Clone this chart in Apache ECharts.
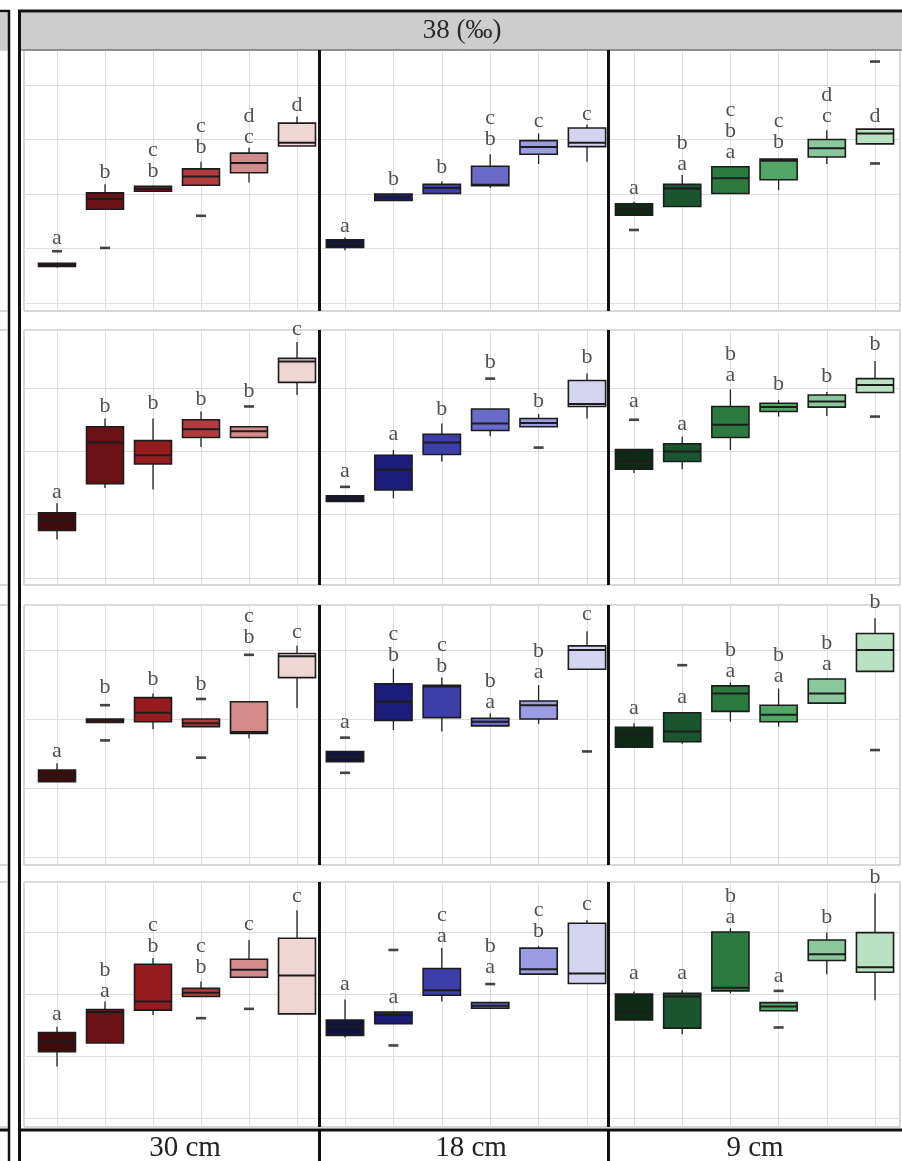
<!DOCTYPE html>
<html><head><meta charset="utf-8">
<script src="https://cdn.jsdelivr.net/npm/echarts@6/dist/echarts.min.js"></script>
<style>html,body{margin:0;padding:0;background:#fff}#c{width:902px;height:1161px}</style>
</head><body><div id="c"></div>
<script>
// ---------- labels ----------
const categories = ['1', '2', '3', '4', '5', '6'];
const depths = ['30 cm', '18 cm', '9 cm'];
const salinityLabel = '38 (‰)';

// ---------- box statistics [lower whisker, Q1, median, Q3, upper whisker] (grid units, 10 per gridline) ----------
// Row 1
const box_r1_30 = [[6.5,6.7,7.1,7.3,7.4],[17.2,17.2,19.1,20.2,21.8],[20.4,20.5,20.9,21.4,21.5],[21.5,21.6,23.2,24.6,25.9],[22.1,23.9,25.7,27.5,28.5],[28.8,28.8,29.4,33.0,34.2]];
const out_r1_30 = [[0,9.5],[1,10.1],[3,16.0]];
const let_r1_30 = ['a','b','c\nb','c\nb','d\nc','d'];
const laby_r1_30 = [9.9,22.0,22.2,26.6,28.4,34.3];

const box_r1_18 = [[9.7,10.2,10.9,11.6,12.0],[18.8,18.8,19.4,20.0,20.0],[20.1,20.1,21.1,21.8,22.3],[21.1,21.5,21.7,25.1,27.3],[25.5,27.3,28.6,29.8,31.1],[25.9,28.7,29.4,32.1,32.7]];
const out_r1_18 = [];
const let_r1_18 = ['a','b','b','c\nb','c','c'];
const laby_r1_18 = [12.1,20.7,22.9,28.1,31.4,32.7];

const box_r1_9 = [[16.1,16.1,17.2,18.2,18.6],[17.7,17.7,21.0,21.8,23.5],[20.1,20.1,22.9,25.0,25.0],[20.7,22.6,26.1,26.4,26.4],[25.5,26.8,28.4,30.0,31.7],[29.2,29.2,31.1,31.9,31.9]];
const out_r1_9 = [[0,13.4],[5,44.3],[5,25.6]];
const let_r1_9 = ['a','b\na','c\nb\na','c\nb','d\nc','d'];
const laby_r1_9 = [19.1,23.5,25.7,27.5,32.3,32.3];

// Row 2
const box_r2_30 = [[6.1,7.5,9.2,10.3,11.8],[14.2,14.9,21.4,23.9,25.2],[14.0,18.0,19.4,21.7,25.2],[20.7,22.2,23.5,25.0,26.3],[22.2,22.2,23.2,23.9,23.9],[28.9,30.9,34.2,34.7,37.3]];
const out_r2_30 = [[4,27.1]];
const let_r2_30 = ['a','b','b','b','b','c'];
const laby_r2_30 = [11.8,25.4,25.8,26.5,27.8,37.6];

const box_r2_18 = [[12.1,12.1,12.6,13.0,13.0],[12.6,13.9,17.1,19.4,20.2],[18.4,19.5,21.4,22.7,24.4],[22.4,23.3,24.4,26.7,26.7],[23.9,23.9,24.5,25.2,25.9],[25.2,27.1,27.5,31.2,32.3]];
const out_r2_18 = [[0,14.4],[3,31.5],[4,20.6]];
const let_r2_18 = ['a','a','b','b','b','b'];
const laby_r2_18 = [15.2,21.0,25.0,32.4,26.2,33.2];

const box_r2_9 = [[16.6,17.2,18.5,20.3,20.3],[17.2,18.4,20.0,21.2,22.3],[20.2,22.2,24.2,27.1,29.8],[25.5,26.3,27.0,27.6,28.1],[25.6,27.0,27.9,28.9,29.4],[29.3,29.3,30.5,31.5,34.3]];
const out_r2_9 = [[0,25.0],[5,25.5]];
const let_r2_9 = ['a','a','b\na','b','b','b'];
const laby_r2_9 = [26.2,22.6,30.3,28.9,30.2,35.2];

// Row 3
const box_r3_30 = [[10.9,10.9,11.7,12.6,13.6],[19.5,19.5,19.8,20.0,20.0],[18.5,19.6,20.9,23.1,23.7],[18.9,18.9,19.4,20.0,20.0],[17.2,17.9,18.1,22.5,22.5],[21.6,26.0,29.1,29.5,30.6]];
const out_r3_30 = [[1,22.0],[1,16.9],[3,22.9],[3,14.4],[4,29.3]];
const let_r3_30 = ['a','b','b','b','c\nb','c'];
const laby_r3_30 = [13.8,23.0,24.2,23.5,30.3,31.0];

const box_r3_18 = [[13.8,13.8,14.5,15.3,15.3],[18.4,19.8,22.5,25.1,27.3],[18.2,20.2,24.7,24.9,26.0],[19.0,19.0,19.6,20.1,20.8],[19.3,20.0,22.0,22.6,24.9],[27.2,27.2,30.0,30.6,32.7]];
const out_r3_18 = [[0,17.3],[0,12.2],[5,15.3]];
const let_r3_18 = ['a','c\nb','c\nb','b\na','b\na','c'];
const laby_r3_18 = [18.0,27.7,26.1,20.9,25.2,33.6];

const box_r3_9 = [[15.9,15.9,17.7,18.8,19.4],[16.4,16.7,18.2,20.9,20.9],[19.6,21.1,23.7,24.8,25.3],[18.9,19.6,20.6,22.0,24.4],[22.3,22.3,23.7,25.8,25.9],[26.9,26.9,30.0,32.4,34.6]];
const out_r3_9 = [[1,27.8],[5,15.5]];
const let_r3_9 = ['a','a','b\na','b\na','b\na','b'];
const laby_r3_9 = [19.9,21.6,25.4,24.6,26.4,35.4];

// Row 4
const box_r4_30 = [[8.3,10.7,12.3,13.8,14.7],[12.1,12.1,17.1,17.5,18.8],[16.6,17.4,18.8,24.8,25.8],[19.6,19.6,20.2,20.9,22.0],[22.7,22.7,23.9,25.6,28.7],[16.8,16.8,23.0,29.0,33.5]];
const out_r4_30 = [[3,16.1],[4,17.6]];
const let_r4_30 = ['a','b\na','c\nb','c\nb','c','c'];
const laby_r4_30 = [15.0,18.7,26.0,22.6,29.5,34.0];

const box_r4_18 = [[13.0,13.3,14.7,15.8,19.1],[15.2,15.2,16.6,17.1,17.1],[18.8,19.8,20.6,24.1,27.4],[17.7,17.7,18.1,18.6,18.6],[23.2,23.2,24.0,27.4,27.7],[21.7,21.7,23.3,31.4,31.9]];
const out_r4_18 = [[1,27.1],[1,11.7],[3,21.6]];
const let_r4_18 = ['a','a','c\na','b\na','c\nb','c'];
const laby_r4_18 = [19.8,17.7,27.6,22.6,28.4,32.7];

const box_r4_9 = [[15.8,15.8,17.0,20.0,20.4],[13.5,14.5,19.6,20.1,20.6],[20.1,20.5,21.0,30.0,30.6],[17.3,17.3,18.0,18.6,18.6],[23.2,25.4,26.4,28.7,29.9],[19.0,23.5,24.3,29.9,36.2]];
const out_r4_9 = [[3,20.5],[3,14.6]];
const let_r4_9 = ['a','a','b\na','a','b','b'];
const laby_r4_9 = [21.5,21.5,30.6,21.1,30.6,37.1];

// ---------- styling (colours) ----------
const reds = ['#3f0b0d', '#6b1216', '#951b1e', '#b23b3d', '#d28a8b', '#f0d5d5'];
const blues = ['#12123f', '#1c1c7a', '#3e3ea8', '#6a6ac8', '#9c9ce2', '#d4d4f0'];
const greens = ['#0e2a17', '#1a5530', '#2d7a40', '#52a566', '#8ac79a', '#b9e1c2'];
const palettes = [reds, blues, greens];

// ---------- layout ----------
const rowTop = [50, 330, 605, 882];
const rowBottom = [311, 585, 865, 1127];
const rowGridLow = [303, 578, 857, 1118];
const rowYMin = [-1.468, -1.106, -1.159, -1.452];
const rowYMax = [46.42, 39.18, 36.52, 38.06];
const colCenters = [[57, 297], [345, 587], [634, 875]];
const sepX = [319.5, 608.5];
const depthX = [185, 471, 755];

const panels = [
  [[box_r1_30, out_r1_30, let_r1_30, laby_r1_30], [box_r1_18, out_r1_18, let_r1_18, laby_r1_18], [box_r1_9, out_r1_9, let_r1_9, laby_r1_9]],
  [[box_r2_30, out_r2_30, let_r2_30, laby_r2_30], [box_r2_18, out_r2_18, let_r2_18, laby_r2_18], [box_r2_9, out_r2_9, let_r2_9, laby_r2_9]],
  [[box_r3_30, out_r3_30, let_r3_30, laby_r3_30], [box_r3_18, out_r3_18, let_r3_18, laby_r3_18], [box_r3_9, out_r3_9, let_r3_9, laby_r3_9]],
  [[box_r4_30, out_r4_30, let_r4_30, laby_r4_30], [box_r4_18, out_r4_18, let_r4_18, laby_r4_18], [box_r4_9, out_r4_9, let_r4_9, laby_r4_9]]
];

const gridColor = '#dedede';
const grids = [], xAxes = [], yAxes = [], series = [];
function addGrid(g, xa, ya) {
  grids.push(g);
  const i = grids.length - 1;
  xa.gridIndex = i; ya.gridIndex = i;
  xAxes.push(xa); yAxes.push(ya);
  return i;
}

panels.forEach((row, ri) => {
  const top = rowTop[ri], bot = rowBottom[ri], low = rowGridLow[ri];
  // panel background with thin border
  addGrid({ left: 24, right: 2, top: top, height: bot - top, show: true, backgroundColor: '#fff', borderColor: '#b0b0b0', borderWidth: 1 },
    { type: 'value', show: false }, { type: 'value', show: false });
  // horizontal grid lines
  addGrid({ left: 24, right: 2, top: top, height: low - top },
    { type: 'value', show: false },
    { type: 'value', min: 0, max: rowYMax[ri], interval: 10, axisLine: { show: false }, axisTick: { show: false },
      axisLabel: { show: false }, splitLine: { show: true, lineStyle: { color: gridColor, width: 1 } } });
  row.forEach((p, ci) => {
    const [box, outl, letters, laby] = p;
    const [x0, x1] = colCenters[ci];
    const gi = addGrid({ left: x0, width: x1 - x0, top: top, height: bot - top },
      { type: 'category', data: categories, boundaryGap: false, axisLine: { show: false }, axisTick: { show: false },
        axisLabel: { show: false, interval: 0 }, splitLine: { show: true, interval: 0, lineStyle: { color: gridColor, width: 1 } } },
      { type: 'value', min: rowYMin[ri], max: rowYMax[ri], show: false });
    const pal = palettes[ci];
    series.push({
      type: 'custom', xAxisIndex: gi, yAxisIndex: gi, clip: false, z: 3, silent: true,
      data: box.map((b, i) => [i, b[0], b[1], b[2], b[3], b[4]]),
      encode: { x: 0, y: [1, 2, 3, 4, 5] },
      renderItem: function (params, api) {
        const i = api.value(0);
        const lo = api.coord([i, api.value(1)]);
        const q1 = api.coord([i, api.value(2)]);
        const md = api.coord([i, api.value(3)]);
        const q3 = api.coord([i, api.value(4)]);
        const hi = api.coord([i, api.value(5)]);
        const hw = api.size([1, 0])[0] * 0.385;
        const cx = q1[0];
        return {
          type: 'group', children: [
            { type: 'line', shape: { x1: cx, y1: hi[1], x2: cx, y2: q3[1] }, style: { stroke: '#222', lineWidth: 1.3 } },
            { type: 'line', shape: { x1: cx, y1: q1[1], x2: cx, y2: lo[1] }, style: { stroke: '#222', lineWidth: 1.3 } },
            { type: 'rect', shape: { x: cx - hw, y: q3[1], width: 2 * hw, height: Math.max(q1[1] - q3[1], 1.5) },
              style: { fill: pal[params.dataIndex], stroke: '#1c1c1c', lineWidth: 1.6 } },
            { type: 'line', shape: { x1: cx - hw, y1: md[1], x2: cx + hw, y2: md[1] }, style: { stroke: '#1c1c1c', lineWidth: 2 } }
          ]
        };
      }
    });
    series.push({
      type: 'scatter', xAxisIndex: gi, yAxisIndex: gi, data: outl, symbol: 'rect', symbolSize: [10, 2.6],
      itemStyle: { color: '#151515' }, z: 4, silent: true, clip: false
    });
    series.push({
      type: 'scatter', xAxisIndex: gi, yAxisIndex: gi, data: laby.map((y, i) => [i, y]), symbolSize: 1,
      itemStyle: { color: 'rgba(0,0,0,0)' }, z: 5, silent: true, clip: false,
      label: { show: true, position: 'top', distance: 0, formatter: (q) => letters[q.dataIndex],
        fontFamily: 'Liberation Serif', fontSize: 22, lineHeight: 21, color: '#262626' }
    });
  });
});

// ---------- frame, strips and text ----------
const black = '#111';
const deco = [];
function line(x1, y1, x2, y2, stroke, w) {
  deco.push({ type: 'line', z: 100, shape: { x1, y1, x2, y2 }, style: { stroke, lineWidth: w } });
}
// remnant of the neighbouring facet on the left
deco.push({ type: 'rect', z: 99, shape: { x: 0, y: 12.5, width: 8, height: 37 }, style: { fill: '#cdcdcd' } });
line(0, 11, 10, 11, black, 2.5);
line(9, 10, 9, 1161, black, 2.5);
rowTop.forEach((t, i) => { line(0, t, 8, t, '#b0b0b0', 1); line(0, rowBottom[i], 8, rowBottom[i], '#b0b0b0', 1); });
line(0, 1130, 9, 1130, black, 3);
// outer frame and header strip
line(19.5, 10, 19.5, 1161, black, 3);
line(18, 11, 902, 11, black, 3);
deco.push({ type: 'rect', z: 99, shape: { x: 21, y: 12.5, width: 881, height: 37 }, style: { fill: '#cdcdcd' } });
line(21, 50, 902, 50, '#444', 1);
deco.push({ type: 'text', z: 101, x: 462, y: 31, style: { text: salinityLabel, font: '27px "Liberation Serif"', fill: '#2a2a2a',
  textAlign: 'center', textVerticalAlign: 'middle', align: 'center', verticalAlign: 'middle' } });
// thick column separators
rowTop.forEach((t, i) => sepX.forEach(x => line(x, t, x, rowBottom[i], black, 3)));
// bottom strip
line(18, 1130, 902, 1130, black, 3);
sepX.forEach(x => line(x, 1130, x, 1161, black, 3));
depths.forEach((d, i) => deco.push({ type: 'text', z: 101, x: depthX[i], y: 1148, style: { text: d, font: '29px "Liberation Serif"', fill: '#222',
  textAlign: 'center', textVerticalAlign: 'middle', align: 'center', verticalAlign: 'middle' } }));

const chart = echarts.init(document.getElementById('c'), null, { renderer: 'canvas' });
chart.setOption({
  animation: false,
  backgroundColor: '#fff',
  grid: grids, xAxis: xAxes, yAxis: yAxes, series: series,
  graphic: { elements: deco }
});
</script></body></html>
